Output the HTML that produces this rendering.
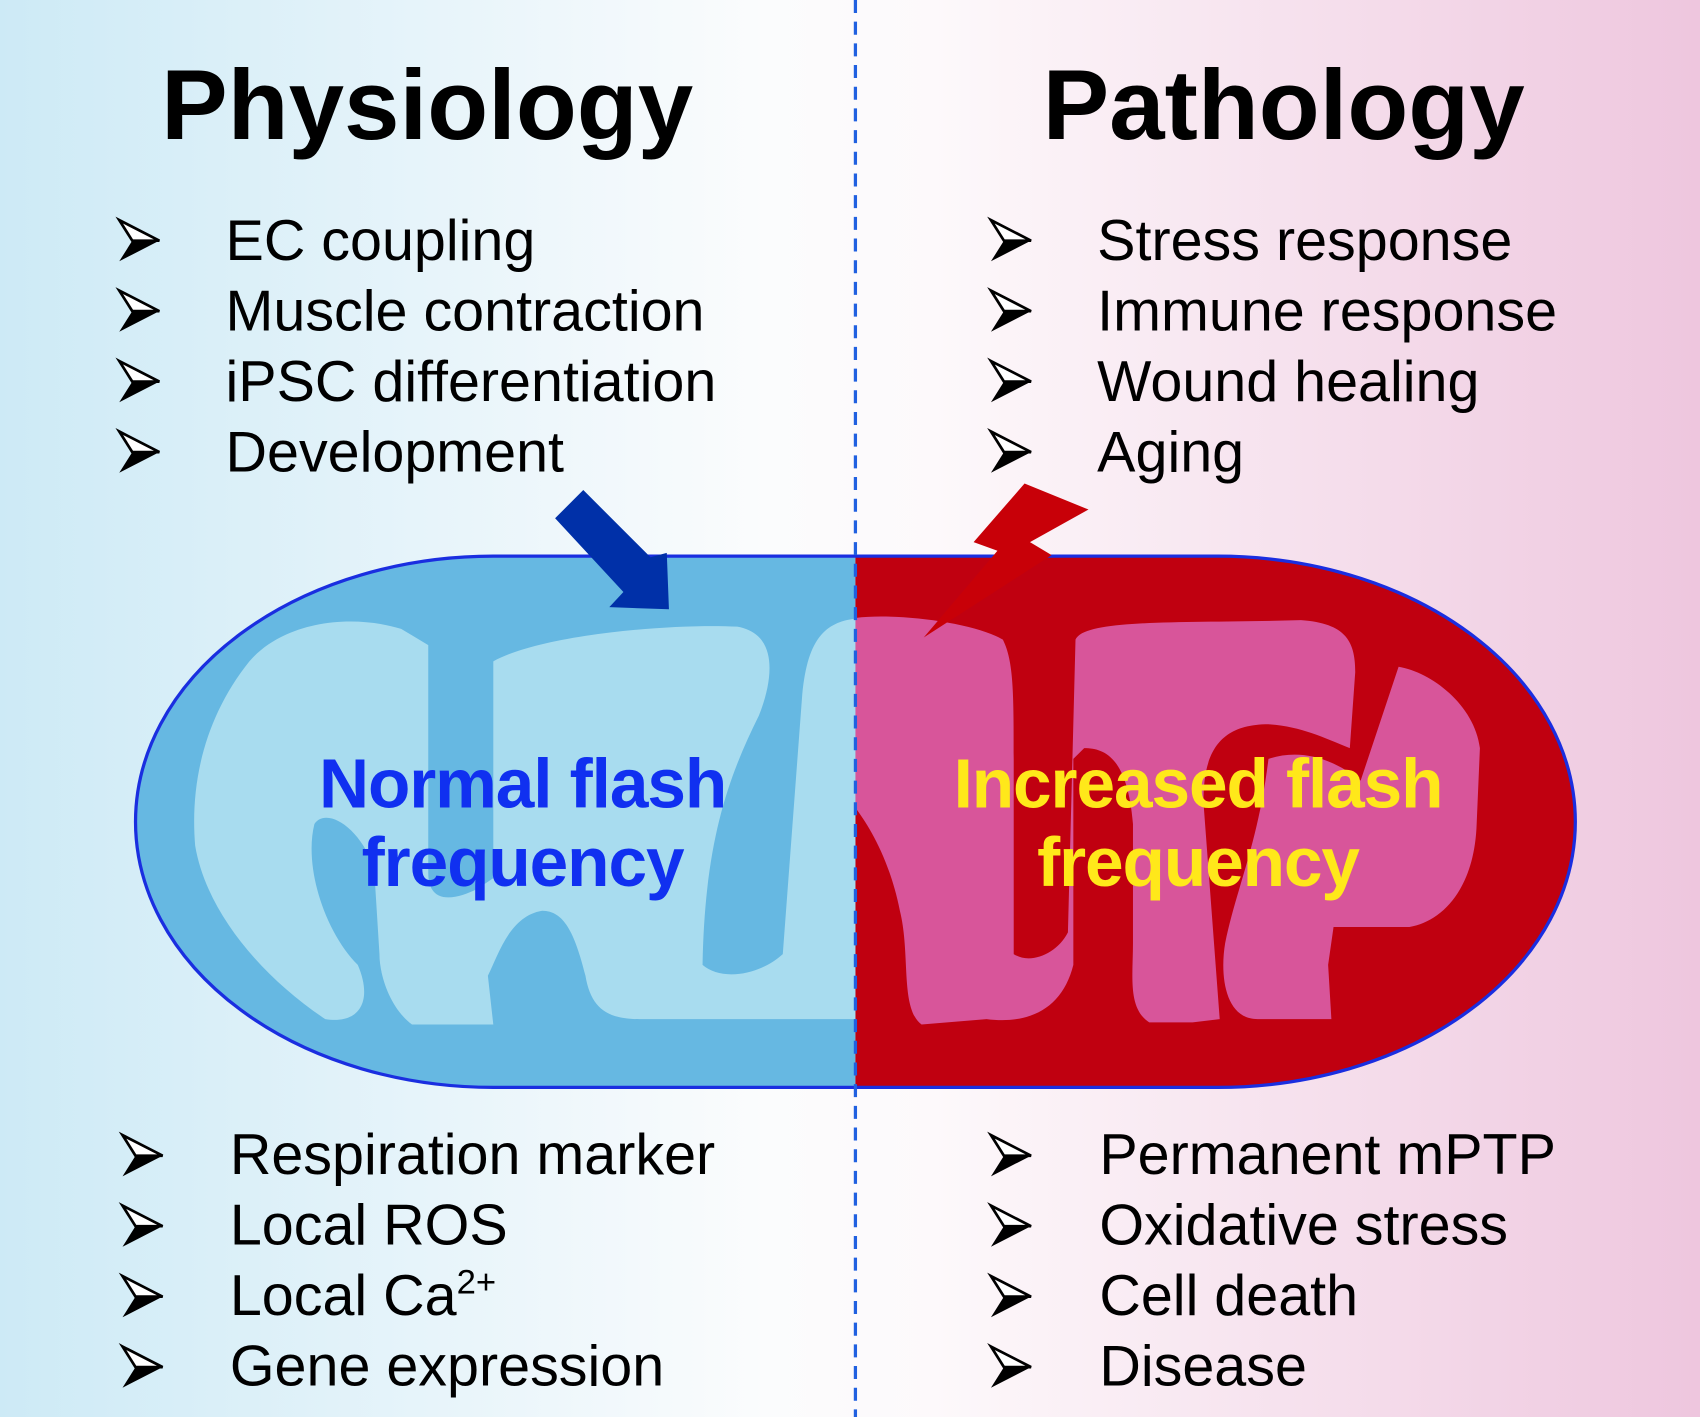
<!DOCTYPE html>
<html><head><meta charset="utf-8"><style>
html,body{margin:0;padding:0;width:1700px;height:1417px;overflow:hidden}
svg{display:block}
text{font-family:"Liberation Sans",Arial,sans-serif}
</style></head><body>
<svg width="1700" height="1417" viewBox="0 0 1568 1307" preserveAspectRatio="none" xmlns="http://www.w3.org/2000/svg">
<defs>
<linearGradient id="bg" x1="0" x2="1" y1="0" y2="0">
<stop offset="0" stop-color="#cdeaf6"/>
<stop offset="0.45" stop-color="#fbfcfd"/>
<stop offset="0.55" stop-color="#fdf9fb"/>
<stop offset="1" stop-color="#eec6de"/>
</linearGradient>
<clipPath id="cap"><rect x="125" y="513" width="1328" height="490" rx="330" ry="245"/></clipPath>
<clipPath id="lh"><rect x="0" y="0" width="789" height="1307"/></clipPath>
<clipPath id="rh"><rect x="789" y="0" width="800" height="1307"/></clipPath>
<g id="bul"><path d="M0,0 L37,19 L0,38 L12,19 Z" fill="#000"/><path d="M0,0 L37,19 L12,19 Z" fill="#fff" stroke="#000" stroke-width="2.5"/></g>
</defs>
<rect width="1568" height="1307" fill="url(#bg)"/>
<g clip-path="url(#cap)">
<rect x="100" y="500" width="689" height="520" fill="#66b8e2"/>
<rect x="789" y="500" width="700" height="520" fill="#c00010"/>
<g clip-path="url(#lh)" fill="#a8dcef">
<path d="M230,610 C260,575 320,565 370,580 L395,595 L395,805 C395,835 420,830 440,820 L455,810 L455,610 C500,585 620,575 680,578 C720,585 712,630 700,660 C670,720 650,780 648,890 C665,905 700,900 722,880 L740,640 C745,590 760,570 800,570 L800,940 L590,940 C560,940 545,930 540,900 C530,860 520,840 500,840 C470,845 460,880 450,900 L455,945 L380,945 C360,930 350,900 350,880 L345,800 C330,760 300,745 290,760 C280,800 300,860 330,890 C345,925 330,945 300,940 C240,900 190,840 180,780 C175,720 190,660 230,610 Z"/>
</g>
<g clip-path="url(#rh)" fill="#d8559a">
<path d="M789,570 C830,565 900,575 925,590 C935,610 935,640 935,700 L935,880 C950,890 975,880 985,860 L992,590 C1000,570 1100,575 1200,572 C1240,575 1250,590 1250,620 L1245,690 C1220,680 1200,670 1170,668 C1120,668 1110,700 1110,740 L1125,940 L1100,943 L1060,943 C1040,930 1045,900 1045,870 L1045,760 C1040,700 1020,690 1000,690 L990,700 L990,890 C980,930 950,945 910,940 L850,945 C830,930 840,880 830,840 C820,790 800,760 789,745 Z"/>
<path d="M1290,615 C1320,620 1360,650 1365,690 L1362,760 C1360,820 1330,850 1300,855 L1230,855 L1225,890 L1228,940 L1160,940 C1130,940 1125,900 1130,870 C1140,820 1160,780 1170,700 C1200,690 1230,700 1255,720 L1290,615 Z"/>
</g>
</g>
<rect x="125" y="513" width="1328" height="490" rx="330" ry="245" fill="none" stroke="#1a2ee0" stroke-width="3"/>
<line x1="789" y1="0" x2="789" y2="1307" stroke="#2060e0" stroke-width="3" stroke-dasharray="12,8"/>
<path d="M512,478 L538,452 L600,514 L615,510 L617,562 L562,560 L575,546 Z" fill="#0030a8"/>
<path d="M945,446 L1004,470 L950,500 L970,512 L852,588 L920,508 L898,500 Z" fill="#c80008"/>
<text x="394" y="128" font-size="92" font-weight="bold" text-anchor="middle">Physiology</text>
<text x="1184" y="128" font-size="92" font-weight="bold" text-anchor="middle">Pathology</text>
<g font-size="53" fill="#000">
<text x="208" y="240">EC coupling</text>
<text x="208" y="305">Muscle  contraction</text>
<text x="208" y="370">iPSC differentiation</text>
<text x="208" y="435">Development</text>
<text x="1012" y="240">Stress response</text>
<text x="1012" y="305">Immune  response</text>
<text x="1012" y="370">Wound  healing</text>
<text x="1012" y="435">Aging</text>
<text x="212" y="1083">Respiration marker</text>
<text x="212" y="1148">Local ROS</text>
<text x="212" y="1213">Local Ca<tspan dy="-20" font-size="32">2+</tspan></text>
<text x="212" y="1278">Gene expression</text>
<text x="1014" y="1083">Permanent mPTP</text>
<text x="1014" y="1148">Oxidative stress</text>
<text x="1014" y="1213">Cell death</text>
<text x="1014" y="1278">Disease</text>
</g>
<use href="#bul" x="110" y="203"/><use href="#bul" x="110" y="268"/><use href="#bul" x="110" y="333"/><use href="#bul" x="110" y="398"/>
<use href="#bul" x="914" y="203"/><use href="#bul" x="914" y="268"/><use href="#bul" x="914" y="333"/><use href="#bul" x="914" y="398"/>
<use href="#bul" x="113" y="1047"/><use href="#bul" x="113" y="1112"/><use href="#bul" x="113" y="1177"/><use href="#bul" x="113" y="1242"/>
<use href="#bul" x="914" y="1047"/><use href="#bul" x="914" y="1112"/><use href="#bul" x="914" y="1177"/><use href="#bul" x="914" y="1242"/>
<g font-size="64" font-weight="bold" text-anchor="middle" letter-spacing="-1">
<text x="482" y="745" fill="#1030f0">Normal flash</text>
<text x="482" y="817" fill="#1030f0">frequency</text>
<text x="1105" y="745" fill="#ffe81a">Increased flash</text>
<text x="1105" y="817" fill="#ffe81a">frequency</text>
</g>
</svg>
</body></html>
